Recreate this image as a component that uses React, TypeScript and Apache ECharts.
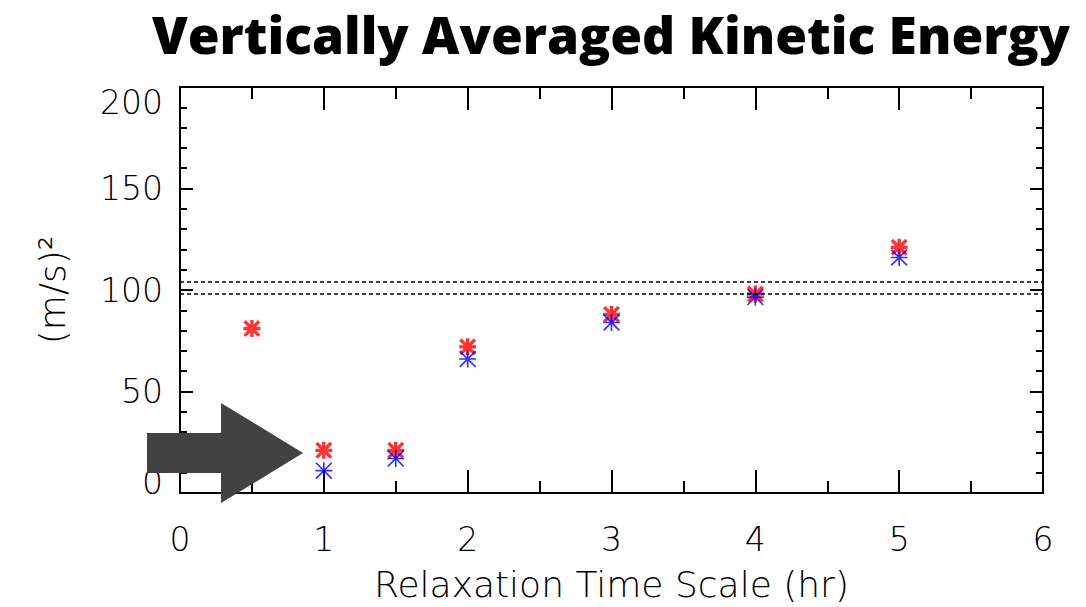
import React, { useEffect, useRef } from "react";
import * as echarts from "echarts";

// Relaxation time scale (hr) for each run
const relaxHours = [0.5, 1, 1.5, 2, 3, 4, 5];
// Vertically averaged kinetic energy, (m/s)^2
const redKE = [81, 21, 21, 72, 88, 98, 121];
const blueKE = [null, 11, 17, 66, 84, 96.5, 116];
// Reference band drawn as dotted horizontal lines
const refLevels = [98, 104];

const TICK_FONT = "'DejaVu Sans', Lato, sans-serif";

// Asterisk markers built from four bars (vertical, horizontal, two diagonals)
const thinStar =
  "path://M45,0L55,0L55,100L45,100Z M0,45L100,45L100,55L0,55Z M7,0L100,93L93,100L0,7Z M93,0L100,7L7,100L0,93Z";
const boldStar =
  "path://M40,0L60,0L60,100L40,100Z M0,40L100,40L100,60L0,60Z M14,0L100,86L86,100L0,14Z M86,0L100,14L14,100L0,86Z";

const pair = (xs: number[], ys: (number | null)[]) =>
  xs.map((x, i) => [x, ys[i]]).filter((p) => p[1] !== null);

const ts = (size: number) => ({
  fontFamily: TICK_FONT,
  fontWeight: 200,
  fontSize: size,
  color: "#000",
});

const axisLine = () => ({ show: true, onZero: false, lineStyle: { color: "#000", width: 2 } });
const xTick = () => ({ show: true, inside: true, length: 23, lineStyle: { color: "#000", width: 2 } });
const xMinor = () => ({ show: true, splitNumber: 2, length: 12, lineStyle: { color: "#000", width: 2 } });
const yTick = () => ({ show: true, inside: true, length: 13, lineStyle: { color: "#000", width: 2 } });
const yMinor = () => ({ show: true, splitNumber: 5, length: 7, lineStyle: { color: "#000", width: 2 } });

export default function App() {
  const ref = useRef<HTMLDivElement>(null);

  useEffect(() => {
    if (!ref.current) return;
    const chart = echarts.init(ref.current, null, { renderer: "svg", width: 1086, height: 607 });

    chart.setOption({
      animation: false,
      backgroundColor: "#fff",
      title: {
        text: "Vertically Averaged Kinetic Energy",
        left: 606,
        top: 3,
        textAlign: "center",
        textStyle: {
          fontFamily: "'Open Sans', Lato, sans-serif",
          fontWeight: 800,
          fontSize: 51.5,
          color: "#000",
        },
      },
      grid: { left: 180, right: 43, top: 87, bottom: 114, containLabel: false },
      xAxis: [
        {
          type: "value",
          min: 0,
          max: 6,
          interval: 1,
          position: "bottom",
          axisLine: axisLine(),
          splitLine: { show: false },
          axisTick: xTick(),
          minorTick: xMinor(),
          axisLabel: { margin: 30, ...ts(33) },
          name: "Relaxation Time Scale (hr)",
          nameLocation: "middle",
          nameGap: 73,
          nameTextStyle: ts(36),
        },
        {
          type: "value",
          min: 0,
          max: 6,
          interval: 1,
          position: "top",
          axisLine: axisLine(),
          splitLine: { show: false },
          axisTick: xTick(),
          minorTick: xMinor(),
          axisLabel: { show: false },
        },
      ],
      yAxis: [
        {
          type: "value",
          min: 0,
          max: 200,
          interval: 50,
          position: "left",
          axisLine: axisLine(),
          splitLine: { show: false },
          axisTick: yTick(),
          minorTick: yMinor(),
          axisLabel: {
            margin: 17,
            ...ts(33),
            formatter: (v: number) =>
              v === 200 ? "{top|200}" : v === 0 ? "{bottom|0}" : String(v),
            rich: {
              top: { ...ts(33), padding: [30, 0, 0, 0] },
              bottom: { ...ts(33), padding: [0, 0, 22, 0] },
            },
          },
          name: "(m/s)²",
          nameLocation: "middle",
          nameRotate: 90,
          nameGap: 110,
          nameTextStyle: ts(36),
        },
        {
          type: "value",
          min: 0,
          max: 200,
          interval: 50,
          position: "right",
          axisLine: axisLine(),
          splitLine: { show: false },
          axisTick: yTick(),
          minorTick: yMinor(),
          axisLabel: { show: false },
        },
      ],
      series: [
        {
          name: "red",
          type: "scatter",
          data: pair(relaxHours, redKE),
          symbol: boldStar,
          symbolSize: 17,
          z: 3,
          itemStyle: { color: "#ff0000" },
          markLine: {
            silent: true,
            symbol: ["none", "none"],
            label: { show: false },
            lineStyle: { color: "#000", width: 1.5, type: [4, 3] },
            data: refLevels.map((v) => ({ yAxis: v })),
          },
        },
        {
          name: "blue",
          type: "scatter",
          data: pair(relaxHours, blueKE),
          symbol: thinStar,
          symbolSize: 17,
          z: 4,
          itemStyle: { color: "#0000ff" },
        },
      ],
      graphic: [
        {
          type: "polygon",
          z: 100,
          shape: {
            points: [
              [147, 433],
              [221, 433],
              [221, 403],
              [303, 453],
              [221, 503],
              [221, 473],
              [147, 473],
            ],
          },
          style: { fill: "#424242" },
        },
      ],
    });

    return () => chart.dispose();
  }, []);

  return (
    <div style={{ position: "fixed", left: 0, top: 0, width: 1086, height: 607 }}>
      <div ref={ref} style={{ width: 1086, height: 607 }} />
    </div>
  );
}
